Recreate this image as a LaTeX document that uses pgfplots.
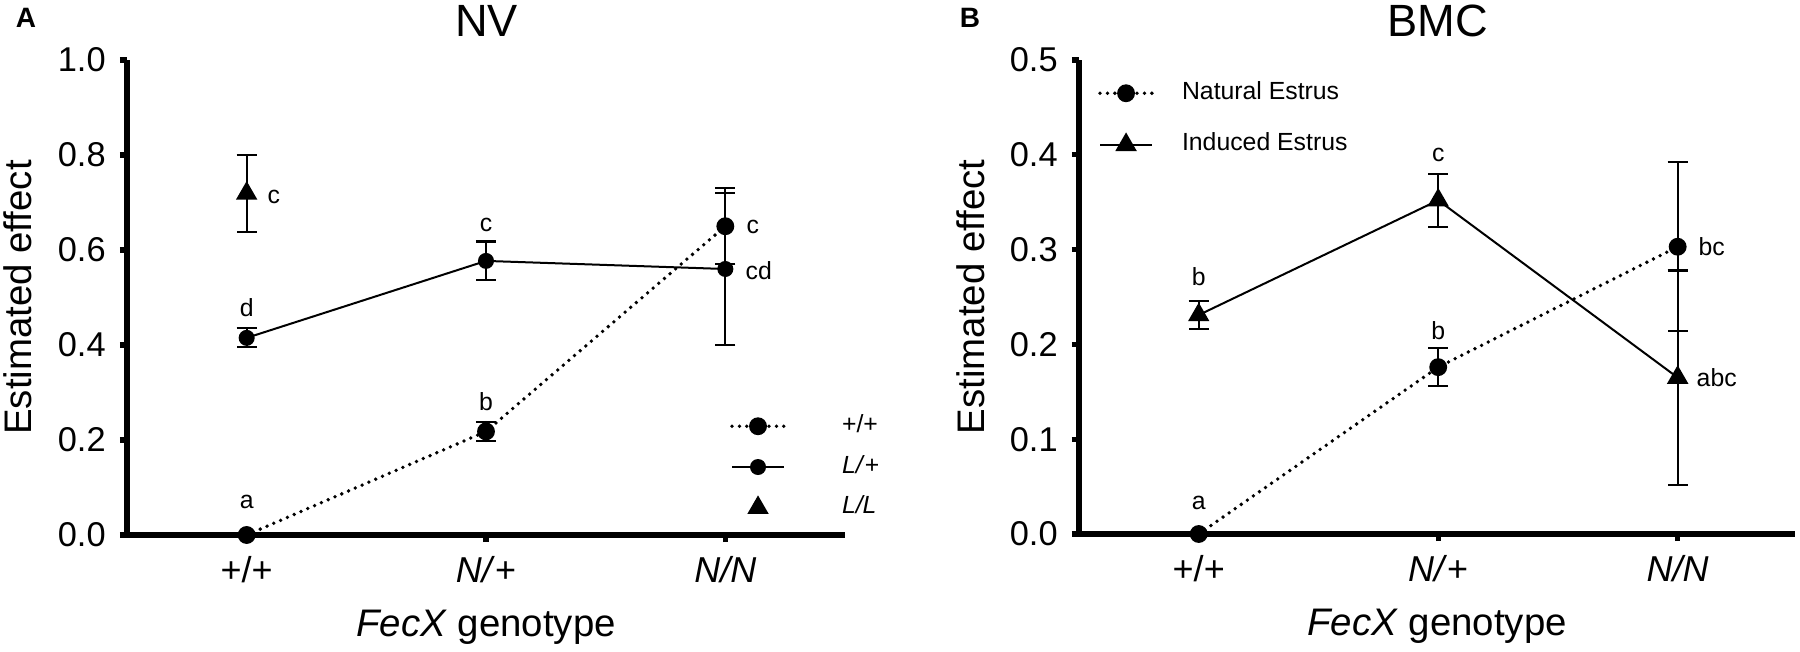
\documentclass[border=0pt]{standalone}
\usepackage{fontspec}
\setmainfont{Liberation Sans}
\usepackage{pgfplots}
\pgfplotsset{compat=1.18}
\newcommand{\fs}[1]{\fontsize{#1}{#1}\selectfont}

\pgfplotsset{
  panel/.style={
    scale only axis,
    axis x line*=bottom, axis y line*=left,
    axis line style={line width=1.3pt},
    tick align=outside, major tick length=1.8pt,
    every tick/.style={line width=1.3pt, black},
    xmin=-0.5, xmax=2.5, xtick={0,1,2},
    xticklabels={+/+, \textit{N/}+, \textit{N/N}},
    tick label style={font=\fs{8.6}},
    x tick label style={font=\fs{9}},
    /pgf/number format/assume math mode=true,
    yticklabel style={/pgf/number format/fixed, /pgf/number format/fixed zerofill, /pgf/number format/precision=1},
    clip=false,
    xlabel={\textit{FecX} genotype}, ylabel={Estimated effect},
    every axis x label/.style={at={(rel axis cs:0.5,-0.2147)}, anchor=base, font=\fs{9.6}},
    every axis y label/.style={at={(rel axis cs:-0.1518,0.5)}, anchor=center, rotate=90, font=\fs{9.6}},
    every axis title/.style={at={(rel axis cs:0.501,1.083)}, anchor=center, font=\fs{11.3}},
    legend image code/.code={\path[draw=none,fill=none] (0pt,0pt) -- (18.5pt,0pt);\draw[mark repeat=2,mark phase=2,#1] plot coordinates {(0pt,0pt) (6.5pt,0pt) (13pt,0pt)};},
    legend cell align=left,
    legend style={draw=none, fill=none, inner sep=0pt, outer sep=0pt, font=\fs{6.2},
      cells={anchor=west}, column sep=0pt},
  },
  dots/.style={black, line width=0.95pt, line cap=round, dash pattern=on 0pt off 1.85pt, mark=*, mark size=1.75pt, mark options={solid}},
  solidl/.style={black, line width=0.5pt, mark=*, mark size=1.75pt, mark options={solid}},
  tri/.style={black, line width=0.5pt, mark=triangle*, mark size=2.6pt, mark options={solid}},
  eb/.style={error bars/.cd, y dir=both, y explicit,
    error mark options={rotate=90, mark size=2.5pt, line width=0.55pt, solid, black},
    error bar style={line width=0.55pt, solid, black}},
}

\begin{document}
\begin{tikzpicture}
\useasboundingbox (0,0) rectangle (450pt,163pt);
\node[font=\fs{7}\bfseries] at (6.5pt,158.5pt) {A};
\node[font=\fs{7}\bfseries] at (242.5pt,158.5pt) {B};

\begin{axis}[panel, at={(31.75pt,29.25pt)}, anchor=south west,
  width=179.5pt, height=118.75pt,
  ymin=0, ymax=1, ytick={0,0.2,0.4,0.6,0.8,1.0},
  title={NV},
  legend style={at={(axis cs:2.02,0.271)}, anchor=north west, row sep=0.2pt}]
\addplot[dots, eb] coordinates {(0,0) +- (0,0) (1,0.218) +- (0,0.02) (2,0.65) +- (0,0.08)};
\addlegendentry{\hspace*{7pt}+/+}
\addplot[solidl, eb] coordinates {(0,0.415) +- (0,0.02) (1,0.577) +- (0,0.041) (2,0.56) +- (0,0.16)};
\addlegendentry{\hspace*{7pt}\textit{L/}+}
\addplot[tri, only marks, eb] coordinates {(0,0.719) +- (0,0.081)};
\addlegendentry{\hspace*{7pt}\textit{L/L}}
\node[font=\fs{6.2}] at (axis cs:0.113,0.712) {c};
\node[font=\fs{6.2}] at (axis cs:0,0.478) {d};
\node[font=\fs{6.2}] at (axis cs:1,0.653) {c};
\node[font=\fs{6.2}] at (axis cs:1,0.281) {b};
\node[font=\fs{6.2}] at (axis cs:0,0.069) {a};
\node[font=\fs{6.2}] at (axis cs:2.115,0.649) {c};
\node[font=\fs{6.2}] at (axis cs:2.14,0.556) {cd};
\end{axis}

\begin{axis}[panel, at={(269.75pt,29.5pt)}, anchor=south west,
  width=179pt, height=118.5pt, xmax=2.49,
  ymin=0, ymax=0.5, ytick={0,0.1,0.2,0.3,0.4,0.5},
  title={BMC},
  legend style={at={(axis cs:-0.42,0.486)}, anchor=north west, row sep=2.9pt}]
\addplot[dots, eb] coordinates {(0,0) +- (0,0) (1,0.176) +- (0,0.02) (2,0.303) +- (0,0.089)};
\addlegendentry{Natural Estrus}
\addplot[tri, eb] coordinates {(0,0.231) +- (0,0.015) (1,0.352) +- (0,0.028) (2,0.165) +- (0,0.113)};
\addlegendentry{Induced Estrus}
\node[font=\fs{6.2}] at (axis cs:0,0.271) {b};
\node[font=\fs{6.2}] at (axis cs:1,0.400) {c};
\node[font=\fs{6.2}] at (axis cs:1,0.215) {b};
\node[font=\fs{6.2}] at (axis cs:0,0.033) {a};
\node[font=\fs{6.2}] at (axis cs:2.142,0.303) {bc};
\node[font=\fs{6.2}] at (axis cs:2.163,0.165) {abc};
\end{axis}
\end{tikzpicture}
\end{document}
